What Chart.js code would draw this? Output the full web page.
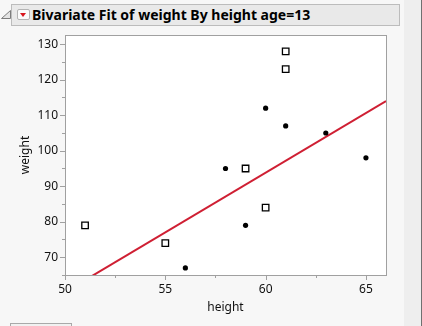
<!DOCTYPE html>
<html>
<head>
<meta charset="utf-8">
<script src="https://cdn.jsdelivr.net/npm/chart.js@4.4.0/dist/chart.umd.min.js"></script>
<style>
  html, body { margin: 0; padding: 0; }
  body {
    width: 422px; height: 326px; overflow: hidden; position: relative;
    background: #f7f7f7; font-family: "Noto Sans", sans-serif;
  }
  #strip {
    position: absolute; left: 404px; top: 0; width: 17px; height: 326px;
    background: #eeeeee; border-right: 1px solid #707070;
  }
  #outline { position: absolute; left: 1px; top: 10px; }
  #header {
    position: absolute; left: 11px; top: 4px; width: 387px; height: 20px;
    background: #e9e9e9; border: 1px solid #bcbcbc;
  }
  #menu {
    position: absolute; left: 5px; top: 4px; width: 11px; height: 9px;
    background: #fbfbfb; border: 1px solid #b4b4b4; border-radius: 2px;
  }
  #menu::after {
    content: ""; position: absolute; left: 2px; top: 3px;
    border-left: 3.5px solid transparent; border-right: 3.5px solid transparent;
    border-top: 4px solid #d8161e;
  }
  #title {
    position: absolute; left: 20px; top: 0px; line-height: 20px;
    font-size: 14px; font-weight: bold; color: #000; white-space: nowrap;
  }
  #stub {
    position: absolute; left: 10px; top: 323px; width: 60px; height: 10px;
    background: #f1f1f1; border: 1px solid #a9a9a9;
  }
  #plot { position: absolute; left: 0; top: 0; }
</style>
</head>
<body>
<div id="strip"></div>
<svg id="outline" width="10" height="9"><polygon points="0.5,8.5 9.5,8.5 9.5,0.5" fill="#e4e4e4" stroke="#7c7c7c" stroke-width="1"/></svg>
<div id="header">
  <div id="menu"></div>
  <div id="title">Bivariate Fit of weight By height age=13</div>
</div>
<div id="stub"></div>
<canvas id="plot" width="422" height="326"></canvas>
<script>
// age 13 group, split by marker
const circleHeight = [56, 58, 59, 60, 61, 63, 65];
const circleWeight = [67, 95, 79, 112, 107, 105, 98];
const squareHeight = [51, 55, 59, 60, 61, 61];
const squareWeight = [79, 74, 95, 84, 128, 123];

// linear fit, ends of the segment
const fitHeight = [50, 66];
const fitWeight = [60.2, 114.0];

// labelled ticks (minor ticks sit halfway between)
const heightTicks = [50, 55, 60, 65];
const weightTicks = [70, 80, 90, 100, 110, 120, 130];

const tickColor = '#a0a0a0';

const isMajor = (list, v) => list.some(m => Math.abs(m - v) < 1e-6);

// white plot background, frame and major/minor tick marks
const framePlugin = {
    id: 'frame',
    beforeDraw(chart) {
        const { ctx, chartArea: a } = chart;
        ctx.save();
        ctx.fillStyle = '#ffffff';
        ctx.fillRect(a.left, a.top, a.right - a.left, a.bottom - a.top);
        ctx.restore();
    },
    afterDraw(chart) {
        const { ctx, chartArea: a, scales } = chart;
        ctx.save();
        ctx.strokeStyle = tickColor;
        ctx.lineWidth = 1;
        ctx.beginPath();
        scales.x.ticks.forEach(t => {
            const len = isMajor(heightTicks, t.value) ? 5 : 3;
            const px = Math.round(scales.x.getPixelForValue(t.value)) + 0.5;
            ctx.moveTo(px, a.bottom);
            ctx.lineTo(px, a.bottom + len);
        });
        scales.y.ticks.forEach(t => {
            const len = isMajor(weightTicks, t.value) ? 5 : 3;
            const py = Math.round(scales.y.getPixelForValue(t.value)) + 0.5;
            ctx.moveTo(a.left, py);
            ctx.lineTo(a.left - len, py);
        });
        ctx.stroke();
        ctx.strokeRect(Math.round(a.left) + 0.5, Math.round(a.top) + 0.5,
            Math.round(a.right - a.left), Math.round(a.bottom - a.top));
        ctx.restore();
    }
};

// keep only ticks on the step grid
const keepSteps = step => scale => {
    scale.ticks = scale.ticks.filter(t => Math.abs(t.value / step - Math.round(t.value / step)) < 1e-6);
};

new Chart(document.getElementById('plot'), {
    type: 'scatter',
    data: {
        datasets: [
            {
                data: circleHeight.map((h, i) => ({ x: h, y: circleWeight[i] })),
                pointStyle: 'circle',
                pointRadius: 2.6,
                pointBorderWidth: 0,
                backgroundColor: '#000000',
                borderColor: '#000000',
                order: 1
            },
            {
                data: squareHeight.map((h, i) => ({ x: h, y: squareWeight[i] })),
                pointStyle: 'rect',
                pointRadius: 4.6,
                pointBorderWidth: 1.3,
                backgroundColor: '#ffffff',
                borderColor: '#000000',
                order: 1
            },
            {
                data: fitHeight.map((h, i) => ({ x: h, y: fitWeight[i] })),
                showLine: true,
                pointRadius: 0,
                borderColor: '#cf1f33',
                borderWidth: 2,
                clip: 0,
                order: 2
            }
        ]
    },
    options: {
        responsive: false,
        animation: false,
        events: [],
        layout: { padding: { top: 35, right: 36, bottom: 0, left: 0 } },
        plugins: { legend: { display: false }, tooltip: { enabled: false } },
        scales: {
            x: {
                type: 'linear',
                min: 50,
                max: 66,
                afterBuildTicks: keepSteps(2.5),
                afterFit: s => { s.height = 51; },
                grid: { display: false, drawTicks: false },
                border: { display: false },
                ticks: {
                    stepSize: 2.5,
                    includeBounds: false,
                    padding: 7,
                    color: '#111111',
                    font: { family: 'Noto Sans', size: 12 },
                    maxRotation: 0,
                    autoSkip: false,
                    callback: v => isMajor(heightTicks, v) ? String(v) : ''
                },
                title: {
                    display: true,
                    text: 'height',
                    color: '#111111',
                    font: { family: 'Noto Sans', size: 12 },
                    padding: { top: 0, bottom: 11 }
                }
            },
            y: {
                type: 'linear',
                min: 65,
                max: 132.6,
                afterBuildTicks: keepSteps(5),
                afterFit: s => { s.width = 65; },
                grid: { display: false, drawTicks: false },
                border: { display: false },
                ticks: {
                    stepSize: 5,
                    includeBounds: false,
                    padding: 7,
                    color: '#111111',
                    font: { family: 'Noto Sans', size: 12 },
                    autoSkip: false,
                    callback: v => isMajor(weightTicks, v) ? String(v) : ''
                },
                title: {
                    display: true,
                    text: 'weight',
                    color: '#111111',
                    font: { family: 'Noto Sans', size: 12 },
                    padding: { top: 18, bottom: 0 }
                }
            }
        }
    },
    plugins: [framePlugin]
});
</script>
</body>
</html>
